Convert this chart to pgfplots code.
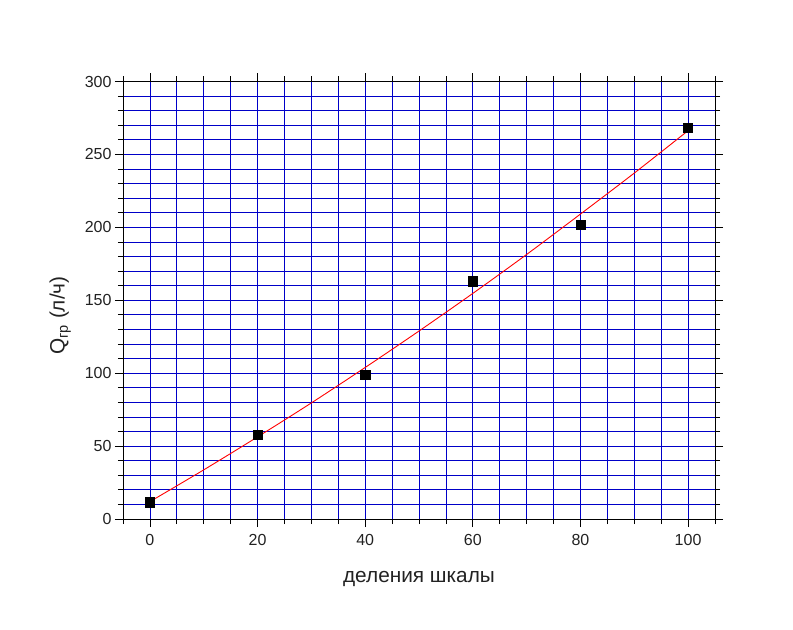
\documentclass[border=0pt]{standalone}
\usepackage{pgfplots}
\pgfplotsset{compat=1.18}
\usepackage{fontspec}
\setmainfont{Liberation Sans}
\definecolor{gridblue}{RGB}{0,0,200}
\definecolor{txt}{RGB}{34,34,34}
\begin{document}
\begin{tikzpicture}
\begin{axis}[
  at={(0,0)}, anchor=south west,
  scale only axis, width=592bp, height=437.5bp,
  xmin=-5, xmax=105, ymin=0, ymax=300,
  xtick={0,20,...,100},
  minor xtick={-5,5,10,15,25,30,35,45,50,55,65,70,75,85,90,95,105},
  ytick={0,50,...,300},
  minor ytick={10,20,30,40,60,70,80,90,110,120,130,140,160,170,180,190,210,220,230,240,260,270,280,290},
  grid=both,
  major grid style={gridblue, line width=0.8bp},
  minor grid style={gridblue, line width=0.8bp},
  tick align=outside,
  major tick length=8bp, minor tick length=5bp,
  every tick/.style={black, line width=0.8bp},
  axis line style={black, line width=0.8bp},
  /pgf/number format/assume math mode=true,
  tick label style={font=\fontsize{16bp}{19bp}\selectfont, text=txt},
  xticklabel style={yshift=-4bp},
  xlabel={деления шкалы},
  ylabel={Q\textsubscript{гр} (л/ч)},
  label style={font=\fontsize{20.8bp}{24bp}\selectfont, text=txt},
  xlabel style={at={(axis description cs:0.5,-0.137)}, anchor=center},
  ylabel style={at={(axis description cs:-0.106,0.465)}, anchor=center, rotate=0},
]
\addplot[only marks, mark=square*, mark size=4.6bp, black] coordinates {
  (0,11.5) (20,58) (40,99) (60,163) (80,202) (100,268.5)
};
\addplot[red, line width=0.9bp, smooth] coordinates {
  (0,11.9) (10,33.7) (20,56.3) (30,79.6) (40,103.9) (50,128.9)
  (60,154.7) (70,181.4) (80,209.1) (90,237.2) (100,266.3)
};
\end{axis}
\pgfresetboundingbox
\useasboundingbox (-123bp,-111bp) rectangle (670bp,519bp);
\end{tikzpicture}
\end{document}
